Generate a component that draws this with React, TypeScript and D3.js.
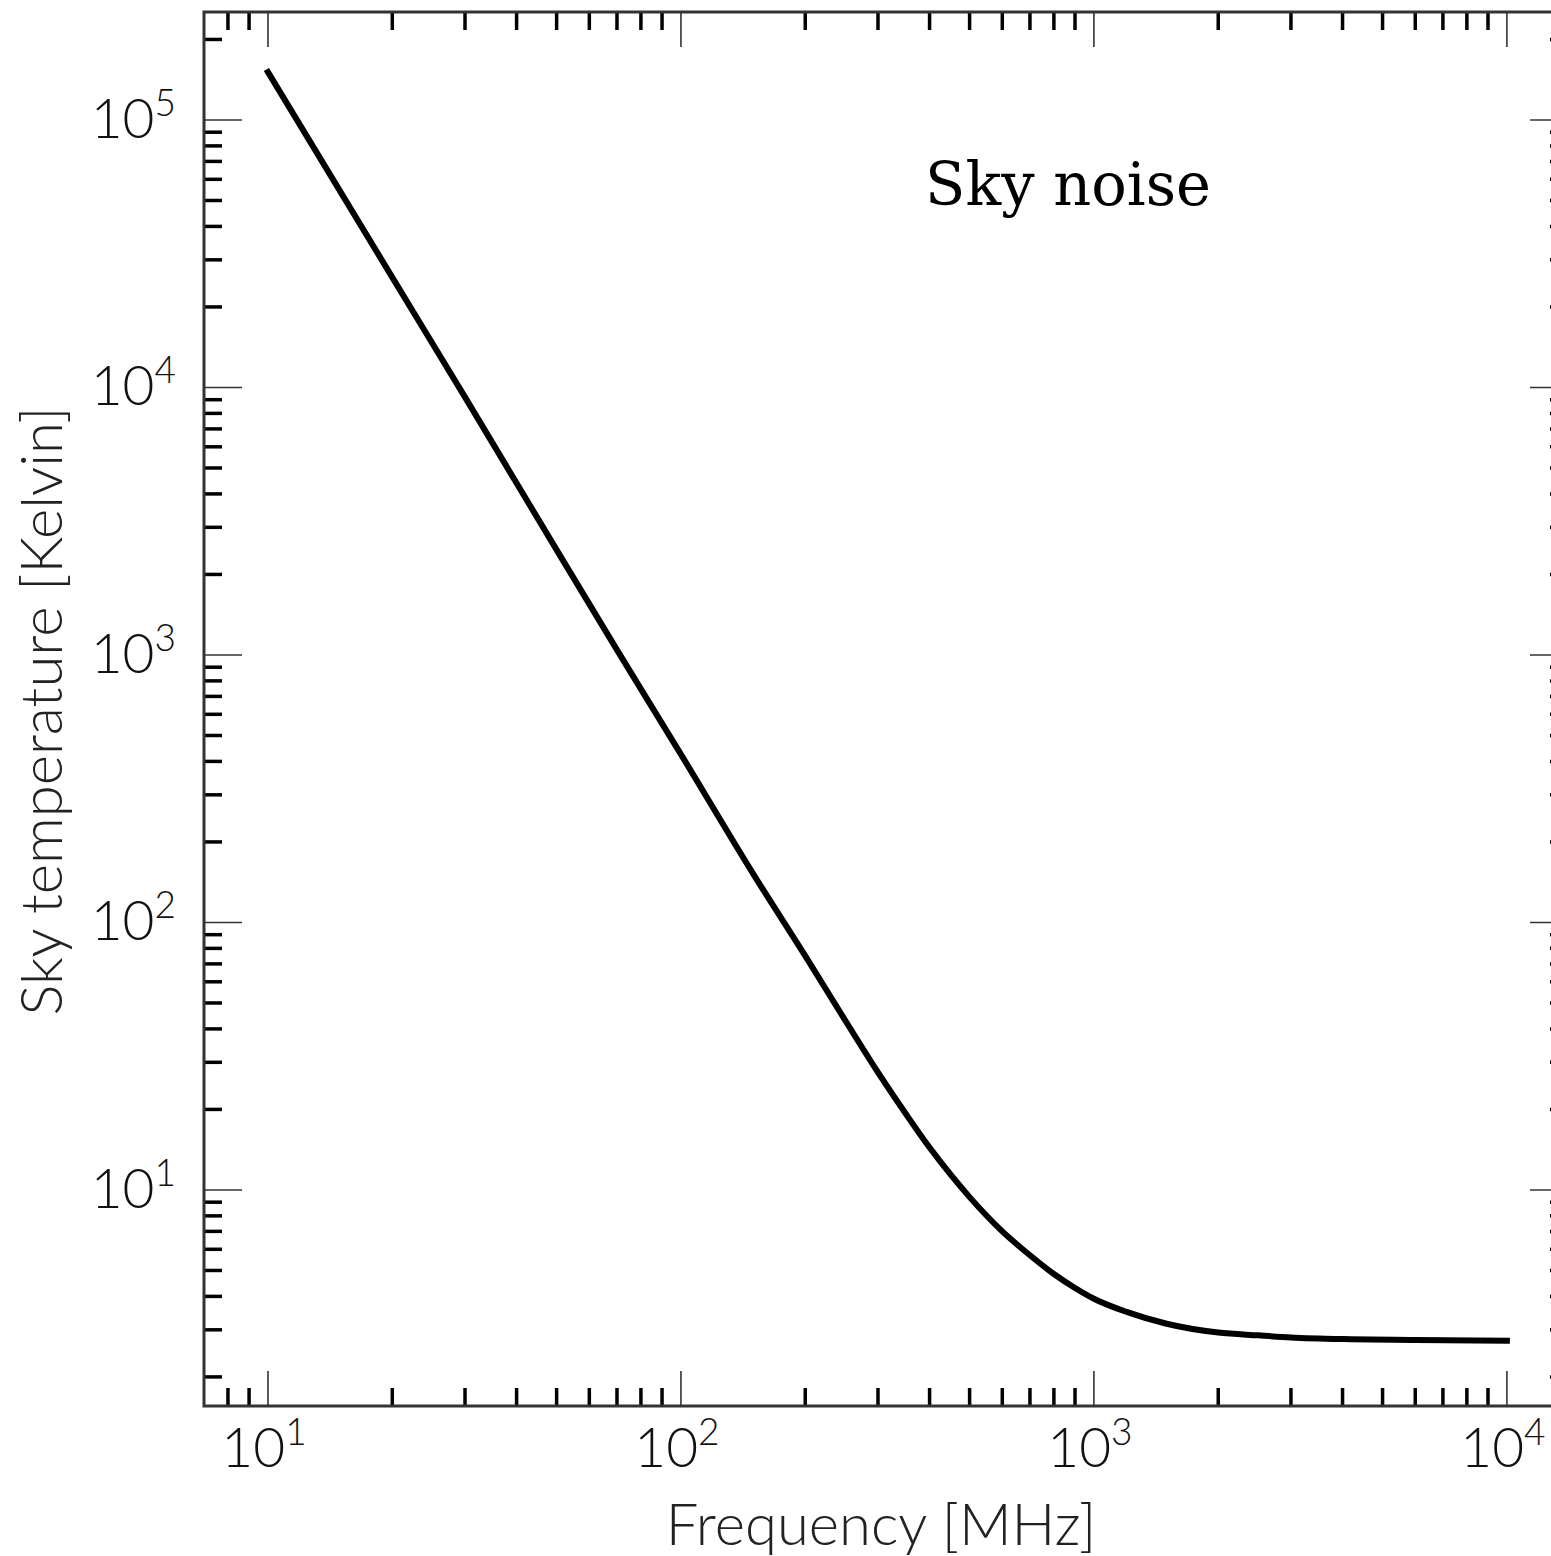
import React, { useEffect, useRef } from 'react';
import * as d3 from 'd3';

// frequency [MHz] and sky temperature [K]
const freqMHz = [10, 20, 30, 50, 70, 100, 150, 200, 250, 300, 350, 400, 450, 500, 600, 700, 800, 900, 1000, 1200, 1500, 2000, 2500, 3000, 4000, 6000, 10000];
const skyTempK = [151000, 25800, 9200, 2470, 1045, 425, 151, 75, 43, 27.5, 19.3, 14.4, 11.4, 9.4, 7.0, 5.7, 4.85, 4.3, 3.92, 3.5, 3.16, 2.93, 2.86, 2.81, 2.77, 2.75, 2.73];

const xDecades = [1, 2, 3, 4];
const yDecades = [1, 2, 3, 4, 5];

const xLabel = 'Frequency [MHz]';
const yLabel = 'Sky temperature [Kelvin]';
const title = 'Sky noise';

function App() {
  const ref = useRef<SVGSVGElement>(null);

  useEffect(() => {
    const svg = d3.select(ref.current);
    svg.selectAll('*').remove();

    const left = 204, right = 1568, top = 12, bottom = 1406;
    const sans = 'Lato, "Open Sans", "DejaVu Sans", sans-serif';

    const x = d3.scaleLog().domain([7.0, 14060]).range([left, right]);
    const y = d3.scaleLog().domain([1.557, 253300]).range([bottom, top]);

    const data = freqMHz.map((f, i) => ({ f, t: skyTempK[i] }));

    // minor ticks: 2..9 x each decade inside the domain
    const minor = (dom: number[]) => {
      const out: number[] = [];
      for (let e = -1; e <= 6; e++) {
        for (let m = 2; m <= 9; m++) {
          const v = m * Math.pow(10, e);
          if (v > dom[0] && v < dom[1]) out.push(v);
        }
      }
      return out;
    };
    const xMinor = minor(x.domain());
    const yMinor = minor(y.domain());

    const g = svg.append('g');

    // x ticks, bottom and top
    [bottom, top].forEach(edge => {
      const dir = edge === bottom ? -1 : 1;
      g.selectAll(null).data(xMinor).join('line')
        .attr('x1', d => x(d)).attr('x2', d => x(d))
        .attr('y1', edge).attr('y2', edge + dir * 18)
        .attr('stroke', '#000').attr('stroke-width', 3.5);
      g.selectAll(null).data(xDecades).join('line')
        .attr('x1', d => x(Math.pow(10, d))).attr('x2', d => x(Math.pow(10, d)))
        .attr('y1', edge).attr('y2', edge + dir * 35)
        .attr('stroke', '#333').attr('stroke-width', 1.6);
    });

    // y ticks, left and right
    [left, right].forEach(edge => {
      const dir = edge === left ? 1 : -1;
      g.selectAll(null).data(yMinor).join('line')
        .attr('y1', d => y(d)).attr('y2', d => y(d))
        .attr('x1', edge).attr('x2', edge + dir * 18)
        .attr('stroke', '#000').attr('stroke-width', 3.5);
      g.selectAll(null).data(yDecades).join('line')
        .attr('y1', d => y(Math.pow(10, d))).attr('y2', d => y(Math.pow(10, d)))
        .attr('x1', edge).attr('x2', edge + dir * 38)
        .attr('stroke', '#333').attr('stroke-width', 1.6);
    });

    // frame
    g.append('rect')
      .attr('x', left).attr('y', top)
      .attr('width', right - left).attr('height', bottom - top)
      .attr('fill', 'none').attr('stroke', '#333').attr('stroke-width', 3);

    // curve
    const line = d3.line<{ f: number; t: number }>()
      .x(d => x(d.f))
      .y(d => y(d.t))
      .curve(d3.curveMonotoneX);
    g.append('path')
      .datum(data)
      .attr('d', line)
      .attr('fill', 'none')
      .attr('stroke', '#000')
      .attr('stroke-width', 6)
      .attr('stroke-linecap', 'square');

    // x tick labels
    const xl = g.selectAll(null).data(xDecades).join('text')
      .attr('x', d => x(Math.pow(10, d)) - 4)
      .attr('y', 1467)
      .attr('text-anchor', 'middle')
      .style('font-family', sans)
      .style('font-size', '55px')
      .style('font-weight', 300)
      .style('fill', '#111');
    xl.append('tspan').text('10');
    xl.append('tspan').attr('dy', -22).style('font-size', '37px').text(d => String(d));

    // y tick labels
    const yl = g.selectAll(null).data(yDecades).join('text')
      .attr('x', 176)
      .attr('y', d => y(Math.pow(10, d)) + 18)
      .attr('text-anchor', 'end')
      .style('font-family', sans)
      .style('font-size', '55px')
      .style('font-weight', 300)
      .style('fill', '#111');
    yl.append('tspan').text('10');
    yl.append('tspan').attr('dy', -22).style('font-size', '37px').text(d => String(d));

    // axis labels
    g.append('text')
      .attr('x', 881).attr('y', 1545)
      .attr('text-anchor', 'middle')
      .style('font-family', sans)
      .style('font-size', '58px')
      .style('font-weight', 300)
      .style('fill', '#222')
      .text(xLabel);

    g.append('text')
      .attr('transform', 'translate(62,711) rotate(-90)')
      .attr('text-anchor', 'middle')
      .style('font-family', sans)
      .style('font-size', '58px')
      .style('font-weight', 300)
      .style('fill', '#222')
      .text(yLabel);

    // annotation
    g.append('text')
      .attr('x', 925).attr('y', 205)
      .style('font-family', '"DejaVu Serif", serif')
      .style('font-size', '59px')
      .style('fill', '#000')
      .text(title);
  }, []);

  return (
    <svg
      ref={ref}
      width={1551}
      height={1556}
      style={{ position: 'absolute', left: 0, top: 0, background: '#fff' }}
    />
  );
}

export default App;
